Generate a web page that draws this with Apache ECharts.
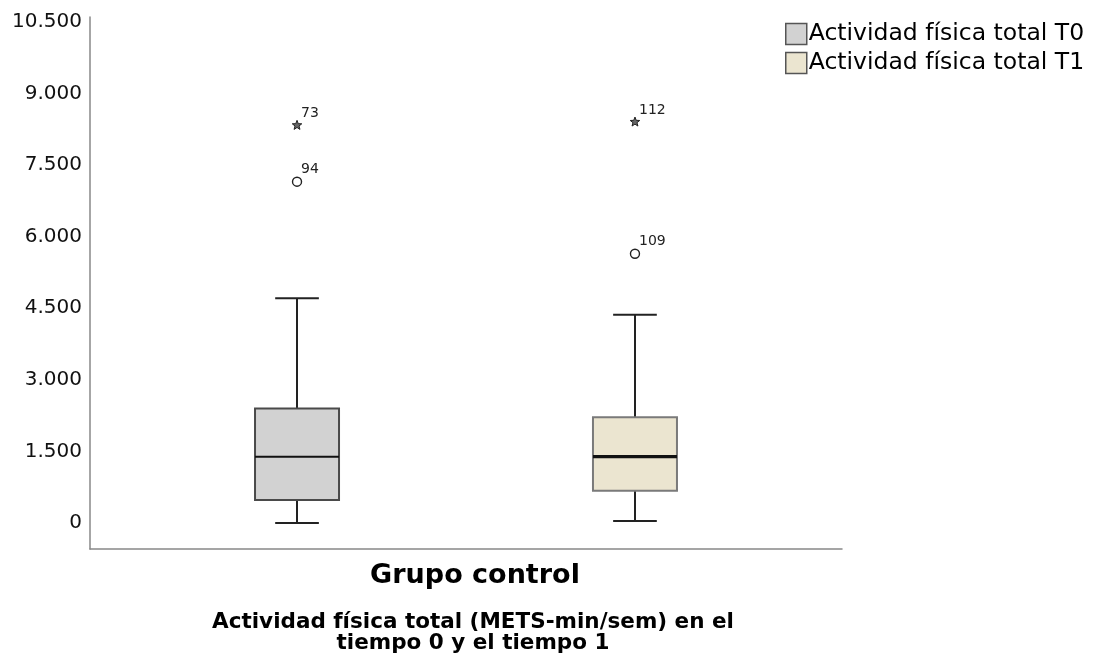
<!DOCTYPE html>
<html>
<head>
<meta charset="utf-8">
<script src="https://cdn.jsdelivr.net/npm/echarts@6/dist/echarts.min.js"></script>
<style>
  html, body { margin: 0; padding: 0; background: #fff; }
  #chart { width: 1102px; height: 660px; }
</style>
</head>
<body>
<div id="chart"></div>
<script>
// Groups on the category axis
const categories = ['Grupo control'];
const seriesNames = ['Actividad física total T0', 'Actividad física total T1'];

// Five-number summaries: [min, Q1, median, Q3, max] (METS-min/sem)
const boxT0 = [0, 482, 1390, 2400, 4710];
const boxT1 = [42, 677, 1390, 2215, 4360];

// Outlying cases: [value, case number, kind]
const outliersT0 = [[8330, '73', 'extreme'], [7150, '94', 'outlier']];
const outliersT1 = [[8400, '112', 'extreme'], [5640, '109', 'outlier']];

// Value-axis labels
const yTicks = [0, 1500, 3000, 4500, 6000, 7500, 9000, 10500];

const FONT = 'DejaVu Sans';
const fills = ['#d2d2d2', '#ebe5d0'];
const strokes = ['#4a4a4a', '#7a7a7a'];
const medianWidths = [2, 3.2];
// horizontal placement of each group's box inside the band (fraction of band width)
const groupOffsets = [-0.2247, 0.2247];
const boxFrac = 0.1117;

function fmt(v) {
  return String(v).replace(/\B(?=(\d{3})+(?!\d))/g, '.');
}

function starPoints(x, y, ro, ri) {
  const pts = [];
  for (let k = 0; k < 10; k++) {
    const r = k % 2 === 0 ? ro : ri;
    const a = -Math.PI / 2 + k * Math.PI / 5;
    pts.push([x + r * Math.cos(a), y + r * Math.sin(a)]);
  }
  return pts;
}

function boxSeries(gi, box) {
  return {
    type: 'custom',
    name: seriesNames[gi],
    itemStyle: { color: fills[gi], borderColor: strokes[gi], borderWidth: 1.5 },
    encode: { x: 0, y: [1, 2, 3, 4, 5] },
    data: [[0].concat(box)],
    z: 3,
    renderItem: function (params, api) {
      const band = api.size([1, 0])[0];
      const cx = api.coord([api.value(0), 0])[0] + groupOffsets[gi] * band;
      const w = boxFrac * band;
      const cap = w * 0.52;
      const y = v => api.coord([0, v])[1];
      const yMin = y(api.value(1)), yQ1 = y(api.value(2)), yMed = y(api.value(3)),
            yQ3 = y(api.value(4)), yMax = y(api.value(5));
      const whisker = { stroke: '#222', lineWidth: 2 };
      return {
        type: 'group',
        children: [
          { type: 'line', shape: { x1: cx, y1: yQ3, x2: cx, y2: yMax }, style: whisker },
          { type: 'line', shape: { x1: cx, y1: yQ1, x2: cx, y2: yMin }, style: whisker },
          { type: 'line', shape: { x1: cx - cap / 2, y1: yMax, x2: cx + cap / 2, y2: yMax }, style: whisker },
          { type: 'line', shape: { x1: cx - cap / 2, y1: yMin, x2: cx + cap / 2, y2: yMin }, style: whisker },
          { type: 'rect', shape: { x: cx - w / 2, y: yQ3, width: w, height: yQ1 - yQ3 },
            style: { fill: fills[gi], stroke: strokes[gi], lineWidth: 2 } },
          { type: 'line', shape: { x1: cx - w / 2, y1: yMed, x2: cx + w / 2, y2: yMed },
            style: { stroke: '#111', lineWidth: medianWidths[gi] } }
        ]
      };
    }
  };
}

function outlierSeries(gi, list) {
  return {
    type: 'custom',
    name: seriesNames[gi] + ' (casos)',
    encode: { x: 0, y: 1 },
    data: list.map(o => [0, o[0]]),
    z: 4,
    renderItem: function (params, api) {
      const band = api.size([1, 0])[0];
      const p = api.coord([api.value(0), api.value(1)]);
      const x = p[0] + groupOffsets[gi] * band;
      const yy = p[1];
      const item = list[params.dataIndex];
      const children = [];
      if (item[2] === 'extreme') {
        children.push({ type: 'polygon', shape: { points: starPoints(x, yy, 5, 2.1) },
          style: { fill: '#666', stroke: '#222', lineWidth: 1 } });
      } else {
        children.push({ type: 'circle', shape: { cx: x, cy: yy, r: 4.5 },
          style: { fill: '#fff', stroke: '#222', lineWidth: 1.4 } });
      }
      children.push({ type: 'text', x: x + 4, y: yy - 5,
        style: { text: item[1], fill: '#222', font: '14px "' + FONT + '"', align: 'left', verticalAlign: 'bottom' } });
      return { type: 'group', children: children };
    }
  };
}

const chart = echarts.init(document.getElementById('chart'), null, { renderer: 'canvas' });
chart.setOption({
  animation: false,
  backgroundColor: '#fff',
  textStyle: { fontFamily: FONT },
  grid: { left: 90, right: 260, top: 17, bottom: 111, containLabel: false },
  title: {
    text: 'Actividad física total (METS-min/sem) en el\ntiempo 0 y el tiempo 1',
    left: 468, top: 607, textAlign: 'center',
    textStyle: { fontFamily: FONT, fontSize: 21.5, fontWeight: 'bold', color: '#000', lineHeight: 21 }
  },
  legend: {
    orient: 'vertical', left: 780, top: 17,
    itemWidth: 21, itemHeight: 21, itemGap: 5, icon: 'rect',
    textStyle: { fontFamily: FONT, fontSize: 23.5, lineHeight: 23, color: '#000', padding: [0, 0, 0, -3] },
    data: seriesNames.map((n, i) => ({
      name: n, itemStyle: { color: fills[i], borderColor: '#555', borderWidth: 1.5 }
    }))
  },
  xAxis: {
    type: 'category',
    data: categories,
    axisLine: { onZero: false, lineStyle: { color: '#888', width: 1.5 } },
    axisTick: { show: false },
    splitLine: { show: false },
    axisLabel: { margin: 13, fontFamily: FONT, fontSize: 27, fontWeight: 'bold', color: '#000', padding: [0, 0, 0, 18] }
  },
  yAxis: {
    type: 'value',
    min: -545, max: 10600,
    axisLine: { show: true, lineStyle: { color: '#888', width: 1.5 } },
    axisTick: { show: false },
    splitLine: { show: false },
    axisLabel: {
      customValues: yTicks, margin: 8,
      fontFamily: FONT, fontSize: 20, color: '#111',
      formatter: v => fmt(v)
    }
  },
  series: [
    boxSeries(0, boxT0),
    boxSeries(1, boxT1),
    outlierSeries(0, outliersT0),
    outlierSeries(1, outliersT1)
  ]
});
</script>
</body>
</html>
